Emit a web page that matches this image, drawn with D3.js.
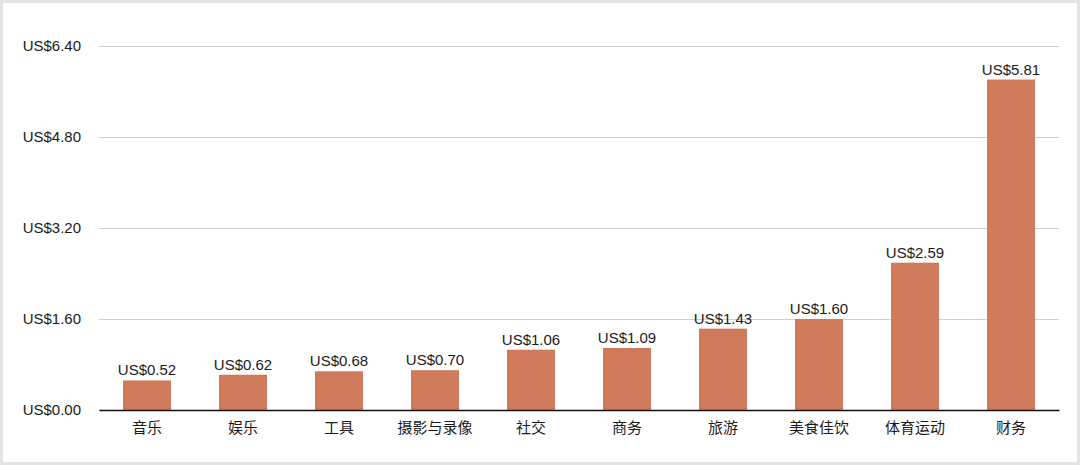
<!DOCTYPE html>
<html><head><meta charset="utf-8">
<script src="https://cdn.jsdelivr.net/npm/d3@7"></script>
<style>
html,body{margin:0;padding:0;background:#fff;}
svg{display:block;}
text{font-family:"Liberation Sans","Noto Sans CJK SC",Arial,sans-serif;}
</style></head><body>
<svg id="c" width="1080" height="465"></svg>
<script>
const categories = ["音乐","娱乐","工具","摄影与录像","社交","商务","旅游","美食佳饮","体育运动","财务"];
const values = [0.52,0.62,0.68,0.70,1.06,1.09,1.43,1.60,2.59,5.81];
const tickValues = [0,1.6,3.2,4.8,6.4];

const svg = d3.select("#c");
svg.append("rect").attr("x",1.5).attr("y",1.5).attr("width",1077).attr("height",462)
  .attr("fill","#fff").attr("stroke","#e3e3e3").attr("stroke-width",3);

const x = d3.scaleBand().domain(categories).range([99,1059]).paddingInner(0.5).paddingOuter(0.25);
const y = d3.scaleLinear().domain([0,6.4]).range([410,46]);
const fmt = v => "US$" + v.toFixed(2);

// grid
svg.append("g").selectAll("line").data(tickValues.filter(d=>d>0)).join("line")
  .attr("x1",99).attr("x2",1059).attr("y1",d=>y(d)).attr("y2",d=>y(d))
  .attr("stroke","#d0d0d0").attr("stroke-width",1).attr("shape-rendering","crispEdges");

// y axis
const ya = svg.append("g").attr("transform","translate(81,0)")
  .call(d3.axisLeft(y).tickValues(tickValues).tickFormat(fmt).tickSize(0).tickPadding(0));
ya.select(".domain").remove();
ya.selectAll("text").attr("font-size",15).attr("fill","#1a1a1a")
  .style("font-family",'"Liberation Sans",Arial,sans-serif');

// bars
svg.append("g").selectAll("rect").data(values).join("rect")
  .attr("x",(d,i)=>x(categories[i])).attr("width",x.bandwidth())
  .attr("y",d=>y(d)).attr("height",d=>y(0)-y(d)).attr("fill","#cf7a5a");

// value labels
svg.append("g").selectAll("text").data(values).join("text")
  .attr("x",(d,i)=>x(categories[i])+x.bandwidth()/2).attr("y",d=>y(d)-5)
  .attr("text-anchor","middle").attr("font-size",15).attr("fill","#1a1a1a").text(fmt);

// x axis
const xa = svg.append("g").attr("transform","translate(0,410)")
  .call(d3.axisBottom(x).tickSize(0).tickPadding(12));
xa.select(".domain").attr("stroke","#111").attr("stroke-width",1.5);
xa.selectAll("text").attr("font-size",15).attr("fill","#1a1a1a")
  .style("font-family",'"Noto Sans CJK SC",sans-serif');
</script>
</body></html>
